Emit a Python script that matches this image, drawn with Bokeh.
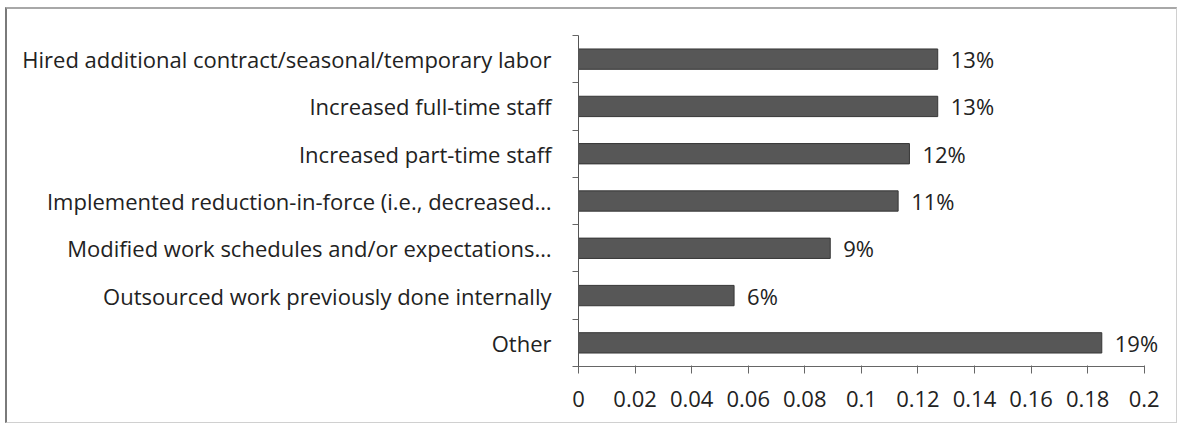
from bokeh.plotting import figure
from bokeh.models import ColumnDataSource, Range1d, FixedTicker, LabelSet
from bokeh.core.properties import value
from bokeh.embed import file_html
from bokeh.resources import INLINE

categories = [
    "Hired additional contract/seasonal/temporary labor",
    "Increased full-time staff",
    "Increased part-time staff",
    "Implemented reduction-in-force (i.e., decreased\u2026",
    "Modified work schedules and/or expectations\u2026",
    "Outsourced work previously done internally",
    "Other",
]
values = [0.127, 0.127, 0.117, 0.113, 0.089, 0.055, 0.185]
value_labels = ["13%", "13%", "12%", "11%", "9%", "6%", "19%"]
x_ticks = [0, 0.02, 0.04, 0.06, 0.08, 0.1, 0.12, 0.14, 0.16, 0.18, 0.2]
x_tick_labels = ["0", "0.02", "0.04", "0.06", "0.08", "0.1", "0.12", "0.14", "0.16", "0.18", "0.2"]

n = len(categories)
ypos = [n - i for i in range(n)]
src = ColumnDataSource(dict(y=ypos, v=values, lab=value_labels, cat=categories))

FONT = "Open Sans"
FS = "22px"
TXT = "#222222"

p = figure(width=1172, height=416, output_backend="svg", toolbar_location=None,
           x_range=Range1d(0, 0.21), y_range=Range1d(0.5, n + 0.5),
           min_border_left=571, min_border_right=7, min_border_top=26, min_border_bottom=59)
p.styles = {"border-left": "2px solid #7a7a7a", "border-top": "2px solid #a8a8a8",
            "border-right": "1px solid #d0d0d0", "border-bottom": "1px solid #d0d0d0",
            "box-sizing": "border-box", "margin-left": "5px", "margin-top": "7px"}
p.outline_line_color = None
p.grid.visible = False

p.hbar(y="y", right="v", left=0, height=0.43, source=src,
       fill_color="#575757", line_color="#363636", line_width=1)

labels = LabelSet(x="v", y="y", text="lab", source=src, x_offset=13, y_offset=0,
                  text_baseline="middle", text_font=value(FONT), text_font_size=FS,
                  text_color=TXT)
p.add_layout(labels)

xa = p.xaxis[0]
xa.bounds = (0, 0.2)
xa.ticker = FixedTicker(ticks=x_ticks)
xa.major_label_overrides = {t: l for t, l in zip(x_ticks, x_tick_labels)}
xa.major_label_text_font = FONT
xa.major_label_text_font_size = FS
xa.major_label_text_color = TXT
xa.axis_line_color = "#666666"
xa.major_tick_line_color = "#666666"
xa.major_tick_out = 7
xa.major_tick_in = 1
xa.minor_tick_line_color = None
xa.major_label_standoff = 17

ya = p.yaxis[0]
ya.ticker = FixedTicker(ticks=ypos, minor_ticks=[k + 0.5 for k in range(n + 1)])
ya.major_label_overrides = {y: c for y, c in zip(ypos, categories)}
ya.major_label_text_font = FONT
ya.major_label_text_font_size = FS
ya.major_label_text_color = TXT
ya.axis_line_color = "#555555"
ya.major_tick_line_color = None
ya.major_tick_out = 0
ya.major_tick_in = 0
ya.minor_tick_line_color = "#666666"
ya.minor_tick_out = 6
ya.minor_tick_in = 0
ya.major_label_standoff = 21

open("out.html", "w").write(file_html(p, INLINE))
